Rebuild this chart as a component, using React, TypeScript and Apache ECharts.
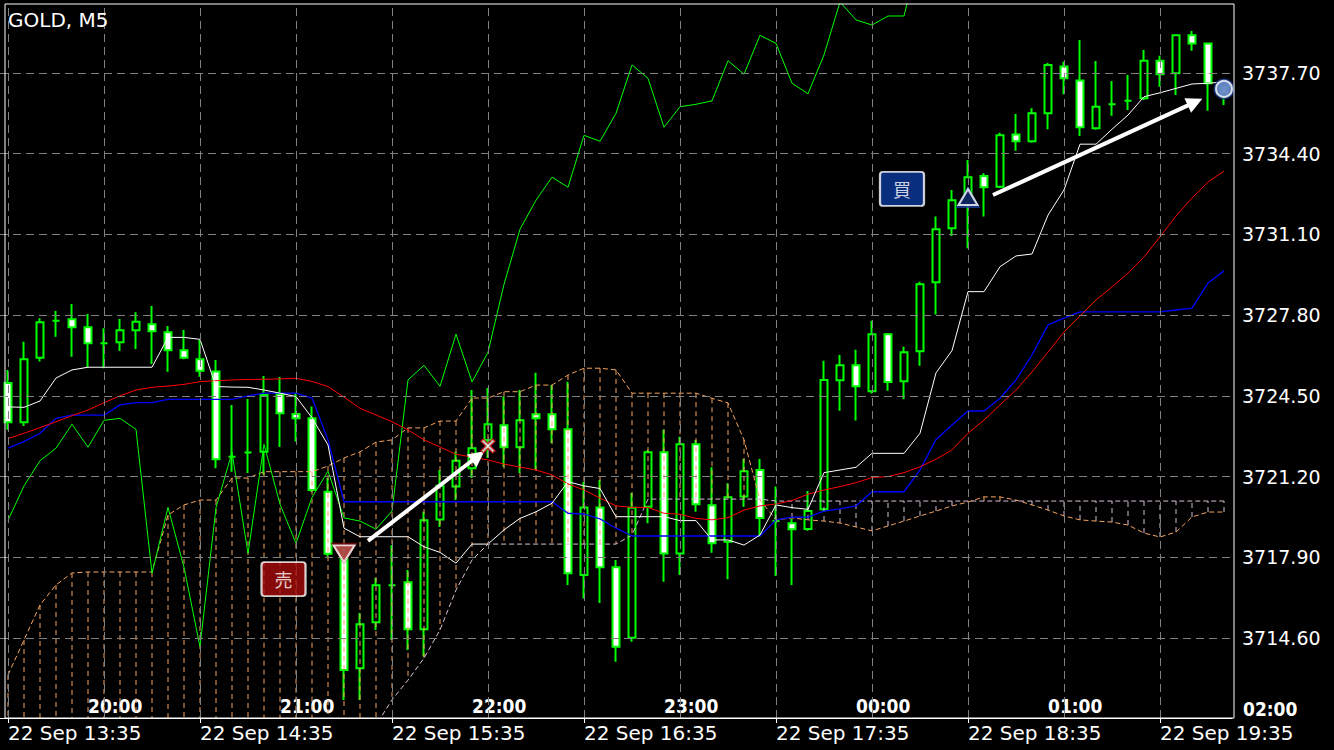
import React, { useEffect, useRef } from 'react';
import * as echarts from 'echarts';

// ---------- categories (5-minute bars, 22 Sep 13:35 .. 19:55) ----------
const TIMES: string[] = (() => {
  const out: string[] = [];
  for (let i = 0; i < 77; i++) {
    const m = 13 * 60 + 35 + 5 * i;
    const hh = String(Math.floor(m / 60)).padStart(2, '0');
    const mm = String(m % 60).padStart(2, '0');
    out.push(`22 Sep ${hh}:${mm}`);
  }
  return out;
})();

const Y_TICKS = [3714.6, 3717.9, 3721.2, 3724.5, 3727.8, 3731.1, 3734.4, 3737.7];
const Y_MIN = 3711.33;
const Y_MAX = 3740.52;
const HOUR_IDX = [5, 17, 29, 41, 53, 65];
const HOUR_LABELS = ['20:00', '21:00', '22:00', '23:00', '00:00', '01:00'];
const NEXT_HOUR_LABEL = '02:00';
const GRID_X_IDX = [0, 6, 12, 18, 24, 30, 36, 42, 48, 54, 60, 66, 72];
const DATE_LABEL_IDX = [0, 12, 24, 36, 48, 60, 72];

// ---------- OHLC ----------
const OPEN = [
  3725.03, 3723.42, 3726.06, 3727.57, 3727.63, 3727.30, 3726.65, 3726.69, 3727.18, 3727.43,
  3727.10, 3726.36, 3726.00, 3725.50, 3722.01, 3722.18, 3722.22, 3724.58, 3723.76, 3723.58,
  3720.58, 3717.82, 3713.36, 3715.24, 3716.76, 3716.88, 3714.96, 3719.45, 3720.79, 3721.54,
  3722.70, 3723.30, 3722.40, 3723.75, 3723.75, 3723.13, 3717.18, 3719.94, 3717.49, 3714.61,
  3719.97, 3722.19, 3718.06, 3722.52, 3720.03, 3718.54, 3720.39, 3721.47, 3719.38, 3719.29,
  3719.06, 3719.86, 3725.14, 3725.75, 3724.69, 3727.02, 3725.10, 3726.32, 3729.14, 3731.35,
  3732.54, 3733.49, 3733.05, 3735.18, 3734.91, 3736.05, 3737.96, 3737.39, 3735.44, 3736.42,
  3736.56, 3736.67, 3738.20, 3737.69, 3739.24, 3738.91, 3737.17,
];
const CLOSE = [
  3723.42, 3726.00, 3727.51, 3727.57, 3727.30, 3726.65, 3726.65, 3727.18, 3727.53, 3727.14,
  3726.36, 3726.06, 3725.53, 3721.91, 3722.01, 3722.18, 3724.54, 3723.79, 3723.58, 3720.65,
  3718.04, 3713.29, 3715.16, 3716.76, 3716.76, 3714.96, 3719.41, 3720.82, 3721.85, 3722.36,
  3723.34, 3722.40, 3723.50, 3723.58, 3723.13, 3717.25, 3719.94, 3717.49, 3714.24, 3719.93,
  3722.19, 3718.06, 3722.52, 3720.07, 3718.47, 3720.35, 3721.42, 3719.51, 3719.38, 3719.05,
  3719.79, 3725.15, 3725.75, 3724.89, 3727.02, 3725.07, 3726.28, 3729.06, 3731.31, 3732.50,
  3733.44, 3733.03, 3735.15, 3734.91, 3736.05, 3738.03, 3737.48, 3735.48, 3736.32, 3736.42,
  3736.56, 3738.20, 3737.65, 3739.24, 3738.91, 3737.28, 3736.85,
];
const HIGH = [
  3725.56, 3726.71, 3727.67, 3727.97, 3728.26, 3727.85, 3727.26, 3727.64, 3727.92, 3728.17,
  3727.36, 3727.19, 3726.78, 3725.97, 3724.13, 3724.37, 3725.31, 3725.27, 3724.62, 3724.06,
  3721.14, 3718.28, 3715.62, 3717.05, 3718.40, 3717.38, 3719.76, 3721.47, 3722.21, 3724.74,
  3724.82, 3724.47, 3724.74, 3725.44, 3724.94, 3725.08, 3720.99, 3721.06, 3717.79, 3720.53,
  3722.29, 3723.11, 3722.83, 3722.70, 3721.58, 3720.93, 3721.92, 3721.92, 3720.79, 3719.47,
  3720.61, 3725.94, 3726.17, 3726.38, 3727.57, 3727.07, 3726.51, 3729.16, 3731.83, 3732.92,
  3734.14, 3733.60, 3735.26, 3736.02, 3736.26, 3738.11, 3738.16, 3739.05, 3738.19, 3737.37,
  3737.62, 3738.64, 3738.40, 3739.28, 3739.42, 3738.93, 3737.25,
];
const LOW = [
  3723.11, 3723.27, 3725.90, 3726.92, 3726.10, 3725.67, 3725.63, 3726.33, 3726.42, 3725.80,
  3725.49, 3726.00, 3725.28, 3721.54, 3721.40, 3721.35, 3721.27, 3722.41, 3722.63, 3720.57,
  3717.93, 3712.07, 3712.07, 3714.93, 3714.52, 3714.11, 3713.84, 3719.14, 3720.24, 3721.14,
  3721.96, 3721.60, 3721.35, 3721.47, 3722.57, 3716.77, 3716.22, 3716.03, 3713.63, 3714.45,
  3719.29, 3716.90, 3717.18, 3719.76, 3718.09, 3717.00, 3719.97, 3718.74, 3717.14, 3716.77,
  3718.99, 3719.80, 3723.89, 3723.49, 3724.60, 3724.71, 3724.36, 3725.73, 3727.83, 3731.04,
  3730.53, 3731.83, 3733.00, 3734.52, 3734.85, 3735.40, 3736.83, 3735.12, 3735.38, 3735.95,
  3736.19, 3736.60, 3737.14, 3736.80, 3738.61, 3736.16, 3736.39,
];

// ---------- indicator lines ----------
const WHITE_LINE = [
  3724.05, 3724.03, 3724.29, 3725.23, 3725.56, 3725.67, 3725.67, 3725.67, 3725.67, 3725.67,
  3726.89, 3726.89, 3726.81, 3724.88, 3724.86, 3724.85, 3724.74, 3724.61, 3724.47, 3723.60,
  3722.49, 3719.09, 3718.74, 3718.74, 3718.74, 3718.74, 3718.33, 3718.10, 3717.66, 3718.44,
  3718.44, 3719.02, 3719.49, 3719.76, 3720.11, 3720.99, 3720.82, 3720.71, 3719.56, 3719.56,
  3719.56, 3719.56, 3719.40, 3719.40, 3718.61, 3718.61, 3718.40, 3718.81, 3720.04, 3719.93,
  3719.86, 3721.36, 3721.47, 3721.58, 3722.15, 3722.15, 3722.15, 3722.97, 3725.44, 3726.35,
  3728.76, 3728.76, 3729.78, 3730.22, 3730.30, 3731.89, 3732.92, 3734.79, 3734.79, 3735.40,
  3735.98, 3736.73, 3736.89, 3737.07, 3737.25, 3737.28, 3737.34,
];
const RED_LINE = [
  3722.75, 3722.97, 3723.20, 3723.44, 3723.69, 3723.92, 3724.22, 3724.50, 3724.74, 3724.85,
  3724.90, 3724.97, 3725.08, 3725.12, 3725.15, 3725.17, 3725.18, 3725.19, 3725.22, 3725.09,
  3724.88, 3724.45, 3723.99, 3723.72, 3723.44, 3723.11, 3722.70, 3722.41, 3722.11, 3722.00,
  3721.88, 3721.71, 3721.59, 3721.47, 3721.27, 3720.90, 3720.65, 3720.32, 3720.00, 3719.94,
  3719.94, 3719.70, 3719.66, 3719.49, 3719.43, 3719.52, 3719.83, 3720.00, 3720.08, 3720.22,
  3720.48, 3720.65, 3720.79, 3720.95, 3721.16, 3721.20, 3721.36, 3721.60, 3721.91, 3722.29,
  3722.97, 3723.51, 3724.13, 3724.74, 3725.48, 3726.29, 3727.11, 3727.77, 3728.42, 3728.95,
  3729.52, 3730.18, 3731.00, 3731.85, 3732.59, 3733.24, 3733.69,
];
const BLUE_LINE = [
  3722.36, 3722.63, 3722.97, 3723.58, 3723.71, 3723.71, 3723.71, 3724.13, 3724.22, 3724.22,
  3724.36, 3724.36, 3724.36, 3724.36, 3724.36, 3724.50, 3724.61, 3724.61, 3724.61, 3724.41,
  3722.70, 3720.17, 3720.17, 3720.17, 3720.17, 3720.17, 3720.17, 3720.17, 3720.17, 3720.17,
  3720.17, 3720.17, 3720.17, 3720.17, 3720.17, 3719.70, 3719.67, 3719.47, 3719.09, 3718.77,
  3718.77, 3718.77, 3718.77, 3718.77, 3718.77, 3718.77, 3718.77, 3718.77, 3719.43, 3719.54,
  3719.54, 3719.79, 3719.88, 3720.00, 3720.58, 3720.58, 3720.58, 3721.47, 3722.72, 3723.31,
  3723.88, 3723.88, 3724.40, 3725.15, 3726.17, 3727.40, 3727.68, 3727.93, 3727.93, 3727.93,
  3727.93, 3727.93, 3727.93, 3728.01, 3728.09, 3729.11, 3729.61,
];
const GREEN_LINE: (number | null)[] = [
  3719.41, 3720.82, 3721.85, 3722.36, 3723.34, 3722.40, 3723.50, 3723.58, 3723.13, 3717.25,
  3719.94, 3717.49, 3714.24, 3719.93, 3722.19, 3718.06, 3722.52, 3720.07, 3718.47, 3720.35,
  3721.42, 3719.51, 3719.38, 3719.05, 3719.79, 3725.15, 3725.75, 3724.89, 3727.02, 3725.07,
  3726.28, 3729.06, 3731.31, 3732.50, 3733.44, 3733.03, 3735.15, 3734.91, 3736.05, 3738.03,
  3737.48, 3735.48, 3736.32, 3736.42, 3736.56, 3738.20, 3737.65, 3739.24, 3738.91, 3737.28,
  3736.85, 3738.44, 3740.60, 3739.87, 3739.66, 3740.03, 3740.03, 3742.65, null, null,
  null, null, null, null, null, null, null, null, null, null,
  null, null, null, null, null, null, null,
];
const SPAN_A = [
  3713.09, 3714.52, 3715.95, 3716.77, 3717.26, 3717.30, 3717.30, 3717.30, 3717.30, 3717.30,
  3719.63, 3720.04, 3720.24, 3720.24, 3721.14, 3721.14, 3721.40, 3721.40, 3721.40, 3721.40,
  3721.63, 3721.96, 3722.21, 3722.61, 3722.70, 3723.19, 3723.19, 3723.47, 3723.47, 3724.41,
  3724.41, 3724.67, 3724.67, 3724.94, 3724.94, 3725.35, 3725.63, 3725.63, 3725.56, 3724.61,
  3724.61, 3724.61, 3724.61, 3724.61, 3724.40, 3724.21, 3722.70, 3720.24, 3719.43, 3719.51,
  3719.43, 3719.38, 3719.30, 3719.14, 3718.98, 3719.18, 3719.38, 3719.59, 3719.79, 3720.00,
  3720.16, 3720.37, 3720.37, 3720.24, 3720.04, 3719.83, 3719.59, 3719.43, 3719.38, 3719.34,
  3719.22, 3718.89, 3718.73, 3718.93, 3719.55, 3719.75, 3719.75,
];
const SPAN_B = [
  3709.00, 3709.00, 3709.00, 3709.00, 3709.00, 3709.00, 3709.00, 3709.00, 3709.00, 3709.00,
  3709.00, 3709.00, 3709.00, 3709.00, 3709.00, 3709.00, 3709.00, 3709.00, 3709.00, 3709.00,
  3709.00, 3709.00, 3709.00, 3711.04, 3712.07, 3712.88, 3713.78, 3714.93, 3716.56, 3717.79,
  3718.44, 3718.44, 3718.44, 3718.44, 3718.44, 3718.44, 3718.44, 3718.44, 3718.44, 3718.81,
  3720.28, 3720.28, 3720.28, 3720.28, 3720.28, 3720.28, 3720.28, 3720.28, 3720.20, 3720.20,
  3720.20, 3720.20, 3720.20, 3720.20, 3720.20, 3720.20, 3720.20, 3720.20, 3720.20, 3720.20,
  3720.20, 3720.20, 3720.20, 3720.20, 3720.20, 3720.20, 3720.20, 3720.20, 3720.20, 3720.20,
  3720.20, 3720.20, 3720.20, 3720.20, 3720.20, 3720.20, 3720.20,
];

// ---------- trade annotations (bar index, price) ----------
const SELL_ENTRY = [21, 3718.04];
const BUY_ENTRY = [60, 3732.63];
const SELL_EXIT = [30, 3722.45];
const BUY_EXIT = [76, 3737.05];
const SELL_TAG = [17.22, 3717.01];
const BUY_TAG = [55.875, 3732.96];
const SELL_ARROW = [[22.5, 3718.57], [29.375, 3722.04]];
const BUY_ARROW = [[61.56, 3732.71], [74.19, 3736.51]];

const SANDY = '#f4a460';
const THISTLE = '#d8bfd8';
const GREEN = '#00ff00';

const X_PATH = 'path://M2,0 L6,4 L10,0 L12,2 L8,6 L12,10 L10,12 L6,8 L2,12 L0,10 L4,6 L0,2 Z';
const TAG_PATH = 'path://M3,0 L41,0 Q44,0 44,3 L44,31 Q44,34 41,34 L3,34 Q0,34 0,31 L0,3 Q0,0 3,0 Z';

function buildOption(): any {
  const candles = OPEN.map((o, i) => [o, CLOSE[i], LOW[i], HIGH[i]]);
  const cloud = SPAN_A.map((a, i) => [i, a, SPAN_B[i]]);
  const lineBase = {
    type: 'line',
    xAxisIndex: 0,
    yAxisIndex: 0,
    symbol: 'none',
    showSymbol: false,
    silent: true,
    z: 4,
  };
  return {
    animation: false,
    backgroundColor: '#000000',
    title: {
      text: 'GOLD, M5',
      left: 8,
      top: 10,
      padding: 0,
      textStyle: { color: '#ffffff', fontSize: 20, fontWeight: 'normal', fontFamily: 'DejaVu Sans' },
    },
    grid: { left: 0, top: 4, width: 1232, height: 714 },
    xAxis: [
      {
        type: 'category',
        data: TIMES,
        boundaryGap: true,
        axisLine: { show: true, lineStyle: { color: '#ffffff', width: 1 } },
        axisTick: {
          show: true,
          alignWithLabel: true,
          interval: (i: number) => DATE_LABEL_IDX.includes(i),
          length: 5,
          lineStyle: { color: '#ffffff' },
        },
        axisLabel: {
          interval: (i: number) => DATE_LABEL_IDX.includes(i),
          align: 'left',
          color: '#ffffff',
          fontSize: 20,
          fontFamily: 'DejaVu Sans',
          margin: 5,
        },
        splitLine: { show: false },
      },
      {
        type: 'category',
        data: TIMES,
        position: 'bottom',
        axisLine: { show: false },
        axisTick: { show: false },
        axisLabel: {
          inside: true,
          interval: (i: number) => HOUR_IDX.includes(i),
          formatter: (_v: string, i: number) => HOUR_LABELS[HOUR_IDX.indexOf(i)] || '',
          align: 'left',
          color: '#ffffff',
          fontSize: 19,
          fontWeight: 'bold',
          fontFamily: '"DejaVu Sans Condensed", "Liberation Sans Narrow", "DejaVu Sans"',
          margin: 3,
        },
        splitLine: { show: false },
      },
      { type: 'value', min: -0.5, max: 76.5, show: false },
    ],
    yAxis: {
      type: 'value',
      position: 'right',
      min: Y_MIN,
      max: Y_MAX,
      axisLine: { show: false },
      axisTick: { show: false, customValues: Y_TICKS },
      axisLabel: {
        customValues: Y_TICKS,
        formatter: (v: number) => v.toFixed(2),
        color: '#ffffff',
        fontSize: 19,
        fontFamily: 'DejaVu Sans',
        margin: 10,
      },
      splitLine: { show: false },
    },
    graphic: [
      {
        type: 'rect',
        silent: true,
        z: 100,
        shape: { x: 5, y: 4, width: 1229, height: 714 },
        style: { fill: 'none', stroke: '#ffffff', lineWidth: 1 },
      },
      {
        type: 'text',
        silent: true,
        x: 1243,
        y: 699,
        style: {
          text: NEXT_HOUR_LABEL,
          fill: '#ffffff',
          fontSize: 19,
          fontWeight: 'bold',
          fontFamily: '"DejaVu Sans Condensed", "Liberation Sans Narrow", "DejaVu Sans"',
        },
      },
    ],
    series: [
      {
        name: 'grid',
        type: 'line',
        xAxisIndex: 2,
        yAxisIndex: 0,
        data: [],
        z: 0,
        silent: true,
        markLine: {
          silent: true,
          symbol: ['none', 'none'],
          label: { show: false },
          lineStyle: { color: '#808080', type: [8, 5], width: 1 },
          emphasis: { disabled: true },
          data: [
            ...GRID_X_IDX.map((i) => ({ xAxis: i })),
            ...Y_TICKS.map((v) => ({ yAxis: v })),
          ],
        },
      },
      {
        name: 'GOLD',
        type: 'candlestick',
        xAxisIndex: 0,
        yAxisIndex: 0,
        data: candles,
        barWidth: 8,
        z: 1,
        silent: true,
        itemStyle: {
          color: '#000000',
          color0: '#ffffff',
          borderColor: GREEN,
          borderColor0: GREEN,
          borderWidth: 2,
        },
      },
      {
        name: 'cloud',
        type: 'custom',
        xAxisIndex: 0,
        yAxisIndex: 0,
        data: cloud,
        clip: true,
        silent: true,
        z: 2,
        encode: { x: 0, y: [1, 2] },
        renderItem: (_params: any, api: any) => {
          const i = api.value(0);
          const a = api.value(1);
          const b = api.value(2);
          const p1 = api.coord([i, a]);
          const p2 = api.coord([i, b]);
          return {
            type: 'line',
            shape: { x1: p1[0], y1: p1[1], x2: p2[0], y2: p2[1] },
            style: { stroke: a >= b ? SANDY : THISTLE, lineWidth: 1, lineDash: [5, 4] },
          };
        },
      },
      { ...lineBase, name: 'Senkou A', data: SPAN_A, z: 3, lineStyle: { color: SANDY, width: 1, type: [5, 3] } },
      { ...lineBase, name: 'Senkou B', data: SPAN_B, z: 3, lineStyle: { color: THISTLE, width: 1, type: [5, 3] } },
      { ...lineBase, name: 'Chikou', data: GREEN_LINE, lineStyle: { color: GREEN, width: 1 } },
      { ...lineBase, name: 'Blue', data: BLUE_LINE, lineStyle: { color: '#0000ff', width: 1.3 } },
      { ...lineBase, name: 'Red', data: RED_LINE, lineStyle: { color: '#ff0000', width: 1 } },
      { ...lineBase, name: 'White', data: WHITE_LINE, lineStyle: { color: '#ffffff', width: 1 } },
      {
        name: 'arrows',
        type: 'lines',
        coordinateSystem: 'cartesian2d',
        xAxisIndex: 2,
        yAxisIndex: 0,
        z: 6,
        silent: true,
        symbol: ['none', 'triangle'],
        symbolSize: [14, 16],
        lineStyle: { color: '#ffffff', width: 4, opacity: 1, curveness: 0 },
        data: [{ coords: SELL_ARROW }, { coords: BUY_ARROW }],
      },
      {
        name: 'marks-back',
        type: 'scatter',
        xAxisIndex: 2,
        yAxisIndex: 0,
        z: 7,
        silent: true,
        data: [
          { value: SELL_ENTRY, symbol: 'triangle', symbolRotate: 180, symbolSize: [27, 22], itemStyle: { color: '#7a0a0a' } },
          { value: BUY_ENTRY, symbol: 'triangle', symbolSize: [25, 22], itemStyle: { color: '#1c3f9c' } },
          { value: BUY_EXIT, symbol: 'circle', symbolSize: 21, itemStyle: { color: '#173a8c' } },
        ],
      },
      {
        name: 'marks',
        type: 'scatter',
        xAxisIndex: 2,
        yAxisIndex: 0,
        z: 8,
        silent: true,
        data: [
          { value: SELL_ENTRY, symbol: 'triangle', symbolRotate: 180, symbolSize: [21, 17], itemStyle: { color: '#c05a55', borderColor: '#ffffff', borderWidth: 2 } },
          { value: BUY_ENTRY, symbol: 'triangle', symbolSize: [19, 16], itemStyle: { color: '#0c1d55', borderColor: '#ffffff', borderWidth: 2 } },
          { value: SELL_EXIT, symbol: X_PATH, symbolSize: 14, itemStyle: { color: '#ffffff', borderColor: '#d01010', borderWidth: 1.5 } },
          { value: BUY_EXIT, symbol: 'circle', symbolSize: 16, itemStyle: { color: '#7896d6', borderColor: '#ffffff', borderWidth: 2 } },
          {
            value: SELL_TAG,
            symbol: TAG_PATH,
            symbolSize: [44, 34],
            itemStyle: { color: '#a80c0c', borderColor: '#ffffff', borderWidth: 2 },
            label: { show: true, position: 'inside', formatter: '売', color: '#ffffff', fontSize: 18, fontFamily: '"Noto Sans CJK JP"' },
          },
          {
            value: BUY_TAG,
            symbol: TAG_PATH,
            symbolSize: [44, 34],
            itemStyle: { color: '#0b3a9e', borderColor: '#ffffff', borderWidth: 2 },
            label: { show: true, position: 'inside', formatter: '買', color: '#ffffff', fontSize: 18, fontFamily: '"Noto Sans CJK JP"' },
          },
        ],
      },
    ],
  };
}

export default function App() {
  const ref = useRef<HTMLDivElement>(null);
  useEffect(() => {
    if (!ref.current) return;
    const chart = echarts.init(ref.current, null, { renderer: 'svg' });
    chart.setOption(buildOption());
    return () => chart.dispose();
  }, []);
  return (
    <div
      ref={ref}
      style={{ position: 'fixed', left: 0, top: 0, width: 1334, height: 750, background: '#000000' }}
    />
  );
}
